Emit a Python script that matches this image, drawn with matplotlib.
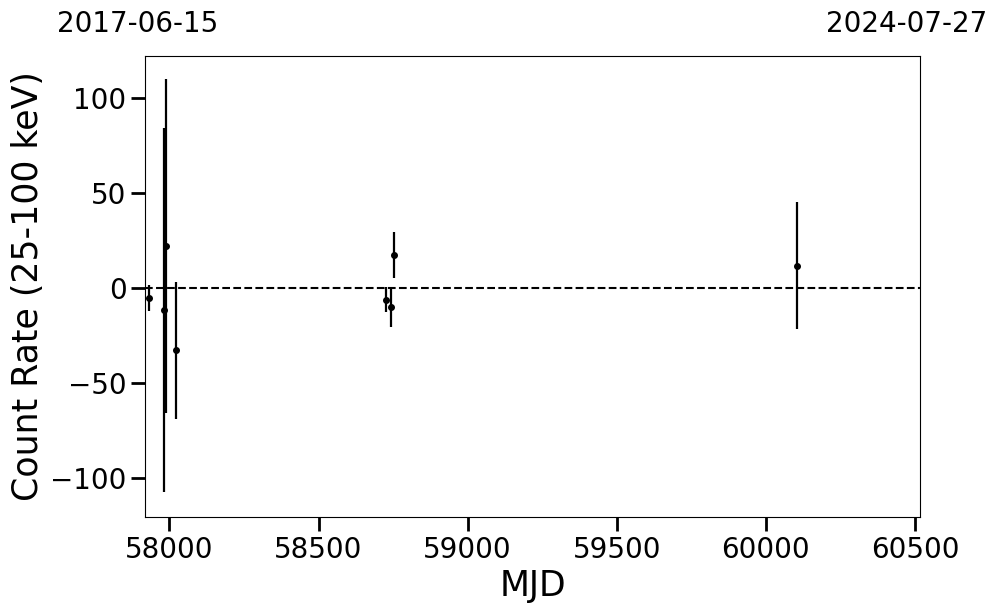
import matplotlib
matplotlib.use('Agg')
import matplotlib.pyplot as plt

# Datos
mjd = [57931, 57983, 57990, 58021, 58726, 58744, 58753, 60104]
rate = [-5.4, -11.7, 22.1, -32.7, -6.3, -10.2, 17.4, 11.7]
err = [6.8, 95.8, 87.9, 36.0, 6.6, 10.5, 12.1, 33.5]
xlims = [57919, 60518]
fechas = ['2017-06-15', '2024-07-27']

fig = plt.figure(figsize=(9.97, 6.13), dpi=100)
ax = fig.add_axes([145.3 / 997, 1 - 517 / 613, 775 / 997, 461 / 613])

ax.errorbar(mjd, rate, yerr=err, fmt='.', color='k', ms=8, elinewidth=1.6)
ax.axhline(0, color='k', ls='--', lw=1.5)

ax.set_xlim(xlims)
ax.set_ylim(-120.5, 122)
ax.set_xticks([58000, 58500, 59000, 59500, 60000, 60500])
ax.set_yticks([-100, -50, 0, 50, 100])
ax.tick_params(labelsize=20, length=10, width=2)
ax.set_xlabel('MJD', fontsize=25)
ax.set_ylabel('Count Rate (25-100 keV)', fontsize=25)

fig.text(57 / 997, 1 - 32 / 613, fechas[0], fontsize=20, ha='left', va='baseline')
fig.text(987 / 997, 1 - 32 / 613, fechas[1], fontsize=20, ha='right', va='baseline')

fig.savefig('out.png', dpi=100)
